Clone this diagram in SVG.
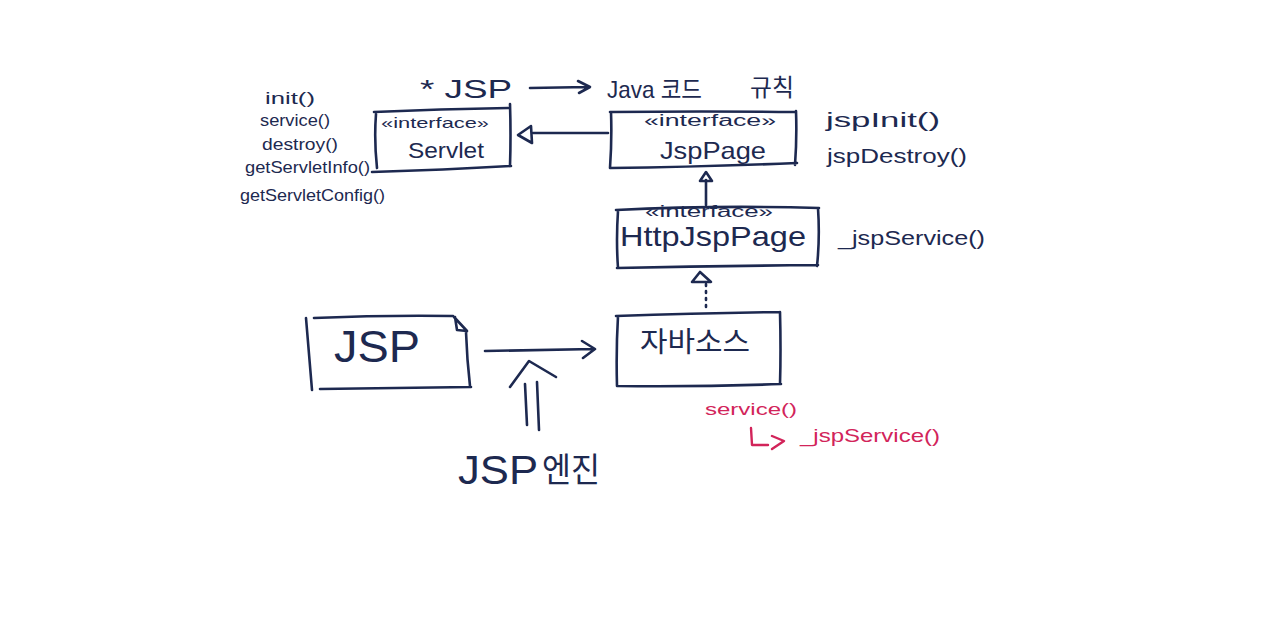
<svg xmlns="http://www.w3.org/2000/svg" width="1280" height="635" viewBox="0 0 1280 635">
<defs>
<style>
.ink{fill:none;stroke:#1d2950;stroke-width:2.6;stroke-linecap:round;stroke-linejoin:round}
.t{fill:#1d2950;font-family:"Liberation Sans","Noto Sans CJK KR",sans-serif}
.r{fill:#d2245a;font-family:"Liberation Sans","Noto Sans CJK KR",sans-serif}
.rink{fill:none;stroke:#d2245a;stroke-width:2.4;stroke-linecap:round;stroke-linejoin:round}
</style>
</defs>
<rect width="1280" height="635" fill="#ffffff"/>

<g id="title">
<text class="t" x="420" y="98" font-size="26" textLength="92" lengthAdjust="spacingAndGlyphs">* JSP</text>
<text class="t" x="607" y="98" font-size="24" textLength="95" lengthAdjust="spacingAndGlyphs">Java 코드</text>
<text class="t" x="750" y="96" font-size="24" textLength="44" lengthAdjust="spacingAndGlyphs">규칙</text>
</g>

<g id="servlet-methods">
<text class="t" x="265" y="104" font-size="17" textLength="50" lengthAdjust="spacingAndGlyphs">init()</text>
<text class="t" x="260" y="126" font-size="17" textLength="70" lengthAdjust="spacingAndGlyphs">service()</text>
<text class="t" x="262" y="150" font-size="17" textLength="76" lengthAdjust="spacingAndGlyphs">destroy()</text>
<text class="t" x="245" y="173" font-size="17" textLength="125" lengthAdjust="spacingAndGlyphs">getServletInfo()</text>
<text class="t" x="240" y="201" font-size="17" textLength="145" lengthAdjust="spacingAndGlyphs">getServletConfig()</text>
</g>

<g id="servlet">
<path class="ink" d="M374 112 Q440 109 508 108 M510 104 Q511 135 510 166 M511 166 Q445 170 372 172 M376 114 Q374 140 377 168"/>
<text class="t" x="381" y="128" font-size="15" textLength="108" lengthAdjust="spacingAndGlyphs">«interface»</text>
<text class="t" x="408" y="158" font-size="22" textLength="76" lengthAdjust="spacingAndGlyphs">Servlet</text>
</g>

<g id="jsppage">
<path class="ink" d="M610 112 Q700 111 796 112 M796 111 Q797 138 795 165 M797 163 Q700 167 610 168 M611 112 Q612 140 610 168"/>
<text class="t" x="644" y="126" font-size="16" textLength="132" lengthAdjust="spacingAndGlyphs">«interface»</text>
<text class="t" x="660" y="159" font-size="24" textLength="106" lengthAdjust="spacingAndGlyphs">JspPage</text>
</g>

<g id="jsppage-methods">
<text class="t" x="826" y="127" font-size="20" textLength="114" lengthAdjust="spacingAndGlyphs">jspInit()</text>
<text class="t" x="827" y="163" font-size="20" textLength="140" lengthAdjust="spacingAndGlyphs">jspDestroy()</text>
</g>

<g id="httpjsppage">
<path class="ink" d="M616 210 Q715 205 819 208 M818 208 Q820 238 817 266 M818 265 Q715 266 617 268 M618 211 Q616 240 618 268"/>
<text class="t" x="645" y="217" font-size="16" textLength="128" lengthAdjust="spacingAndGlyphs">«interface»</text>
<text class="t" x="620" y="246" font-size="28" textLength="186" lengthAdjust="spacingAndGlyphs">HttpJspPage</text>
</g>

<g id="httpjsppage-methods">
<text class="t" x="838" y="245" font-size="20" textLength="147" lengthAdjust="spacingAndGlyphs">_jspService()</text>
</g>

<g id="javasource">
<path class="ink" d="M616 316 Q700 313 780 312 M780 312 Q781 350 780 384 M781 384 Q700 387 617 386 M618 316 Q616 350 617 386"/>
<text class="t" x="640" y="352" font-size="28" textLength="110" lengthAdjust="spacingAndGlyphs">자바소스</text>
</g>

<g id="jspfile">
<path class="ink" d="M306 318 Q309 355 312 390 M314 318 Q385 315 453 316 M455 317 L457 330 L467 331 L454 317 M466 332 Q467 360 470 386 M320 389 Q395 388 471 387"/>
<text class="t" x="334" y="362" font-size="44" textLength="86" lengthAdjust="spacingAndGlyphs">JSP</text>
</g>

<g id="jspengine">
<text class="t" x="458" y="484" font-size="40" textLength="80" lengthAdjust="spacingAndGlyphs">JSP</text>
<text class="t" x="542" y="482" font-size="34" textLength="58" lengthAdjust="spacingAndGlyphs">엔진</text>
</g>

<g id="notes">
<text class="r" x="705" y="415" font-size="17" textLength="92" lengthAdjust="spacingAndGlyphs">service()</text>
<path class="rink" d="M751 428 L752 445 L768 445 M772 436 L784 441 L772 449"/>
<text class="r" x="800" y="442" font-size="19" textLength="140" lengthAdjust="spacingAndGlyphs">_jspService()</text>
</g>

<g id="connectors">
<path class="ink" d="M530 88 L588 87 M578 81 L590 87 L579 93"/>
<path class="ink" d="M533 133 L608 133"/>
<path class="ink" d="M531 126 L518 135 L532 143 Z"/>
<path class="ink" d="M706 180 L706 205"/>
<path class="ink" d="M700 181 L706 172 L712 181 Z"/>
<path class="ink" d="M706 284 L706 310" stroke-dasharray="2 5"/>
<path class="ink" d="M692 282 L700 272 L711 282 Z"/>
<path class="ink" d="M485 351 L594 349 M582 341 L595 349 L583 358"/>
<path class="ink" d="M510 387 L529 361 L556 377"/>
<path class="ink" d="M525 384 L527 425 M537 382 L539 430"/>
</g>
</svg>
